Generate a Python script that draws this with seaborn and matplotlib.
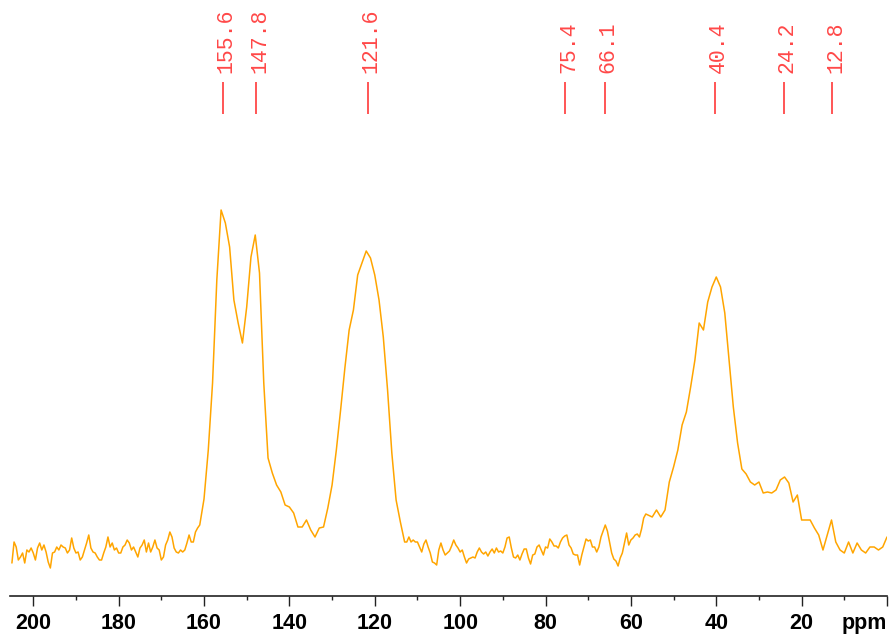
import numpy as np
import pandas as pd
import matplotlib
matplotlib.use("Agg")
import matplotlib.pyplot as plt
import matplotlib.transforms as mtransforms
import seaborn as sns

# 13C CP/MAS spectrum: baseline stretches sampled every 0.5 ppm, signal regions every 1 ppm
shift_205_161 = np.linspace(205, 161, 89)
baseline_205_161 = [-10, 11, 6, -7, -4, 0, -10, 3, 1, 5, 0, -7, 5, 10, 3, 8, 1, -9, -15, 0,
                    1, 6, 3, 8, 6, 5, 0, 3, 15, 5, 0, 1, -7, -4, 3, 10, 18, 5, 1, 0,
                    -4, -7, -7, 0, 6, 16, 6, 10, 3, 5, 0, 0, 6, 8, 13, 10, 3, 6, 1, -4,
                    5, 8, 13, 1, 10, 1, 6, 13, 5, 3, -7, -4, 8, 13, 21, 16, 5, 1, 0, 3,
                    1, 3, 10, 18, 11, 11, 21, 25, 28]

shift_160_114 = np.linspace(160, 114, 47)
aromatic_160_114 = [54, 103, 170, 273, 343, 330, 306, 253, 230, 210, 246, 296, 318, 280, 170,
                    95, 80, 68, 61, 48, 46, 40, 26, 26, 33, 23, 16, 25, 26, 45, 68, 103, 143,
                    185, 223, 243, 278, 290, 302, 295, 278, 253, 216, 163, 100, 53, 31]

shift_113_56 = np.linspace(113, 56, 115)
baseline_113_56 = [11, 11, 16, 11, 13, 11, 11, 6, 1, 9, 13, 6, 0, -9, -10, -12, 3, 10, 3, -2,
                   0, 2, 7, 13, 8, 5, 1, 3, -4, -10, -6, -5, -4, -5, 1, 5, 1, -1, 1, -3,
                   1, 4, 0, 5, 1, 2, 0, 6, 15, 16, 5, -4, -5, -2, -7, -1, 4, 4, -5, -11,
                   -2, -1, 6, 8, 3, -2, 6, 5, 14, 11, 7, 7, 5, 11, 15, 17, 18, 8, 5, -1,
                   -2, -2, -12, -2, 6, 14, 12, 13, 6, 6, 1, 6, 16, 22, 28, 22, 11, 0, -6, -8,
                   -13, -5, 0, 10, 20, 8, 13, 15, 18, 19, 16, 24, 35, 39, 38]

shift_55_0 = np.linspace(55, 0, 56)
aliphatic_55_0 = [36, 43, 36, 43, 71, 86, 103, 128, 141, 166, 193, 230, 223, 251, 266, 276,
                  266, 240, 193, 146, 110, 84, 79, 71, 68, 71, 60, 61, 60, 63, 73, 76, 70,
                  51, 58, 33, 33, 33, 25, 18, 3, 18, 33, 11, 3, 0, 11, 0, 10, 3, 0, 6, 6,
                  3, 6, 16]

peak_picks = [155.6, 147.8, 121.6, 75.4, 66.1, 40.4, 24.2, 12.8]

tick_values = [200, 180, 160, 140, 120, 100, 80, 60, 40, 20, 0]
tick_labels = ["200", "180", "160", "140", "120", "100", "80", "60", "40", "20", "ppm"]
minor_values = [190, 170, 150, 130, 110, 90, 70, 50, 30, 10]

spectrum = pd.DataFrame({
    "shift": np.concatenate([shift_205_161, shift_160_114, shift_113_56, shift_55_0]),
    "intensity": np.concatenate([baseline_205_161, aromatic_160_114,
                                 baseline_113_56, aliphatic_55_0]),
})

sns.set_theme(style="white")
plt.rcParams["font.family"] = ["Liberation Sans", "DejaVu Sans"]

W, H = 890, 639
fig = plt.figure(figsize=(W / 100, H / 100), dpi=100)
ax_bottom = 595.7
ax = fig.add_axes([10 / W, (H - ax_bottom) / H, 877 / W, ax_bottom / H])

sns.lineplot(data=spectrum, x="shift", y="intensity", ax=ax, color="#ffa500",
             linewidth=1.1, estimator=None)

ax.set_xlim(205.45, 0)
ax.set_ylim(-42.7, 553)

# peak-pick markers along the top
blend = mtransforms.blended_transform_factory(ax.transData, ax.transAxes)
red = "#ff4848"
for p in peak_picks:
    ax.plot([p, p], [0.8086, 0.8623], transform=blend, color=red, lw=1.3,
            solid_capstyle="butt", clip_on=False)
    ax.annotate(f"{p:.1f}", xy=(p, 0.8775), xycoords=blend, xytext=(2.5, 0),
                textcoords="offset points", rotation=90, ha="center", va="bottom",
                color=red, fontsize=15.5, family=["Liberation Mono", "DejaVu Sans Mono"])

for side in ("left", "top", "right"):
    ax.spines[side].set_visible(False)
ax.spines["bottom"].set_color("#222222")
ax.spines["bottom"].set_linewidth(1.2)

ax.set_yticks([])
ax.set_xticks(tick_values, tick_labels)
ax.set_xticks(minor_values, minor=True)
ax.tick_params(axis="x", which="major", direction="out", length=7.2, width=1.0,
               color="#222222", pad=5.5, labelsize=15.5, bottom=True)
ax.tick_params(axis="x", which="minor", direction="out", length=3, width=1.0,
               color="#222222", bottom=True)
for lbl in ax.get_xticklabels():
    lbl.set_fontweight("bold")
    lbl.set_color("black")
    if lbl.get_text() == "ppm":
        lbl.set_horizontalalignment("right")
ax.set_xlabel("")
ax.set_ylabel("")

fig.savefig("out.png", dpi=100)
